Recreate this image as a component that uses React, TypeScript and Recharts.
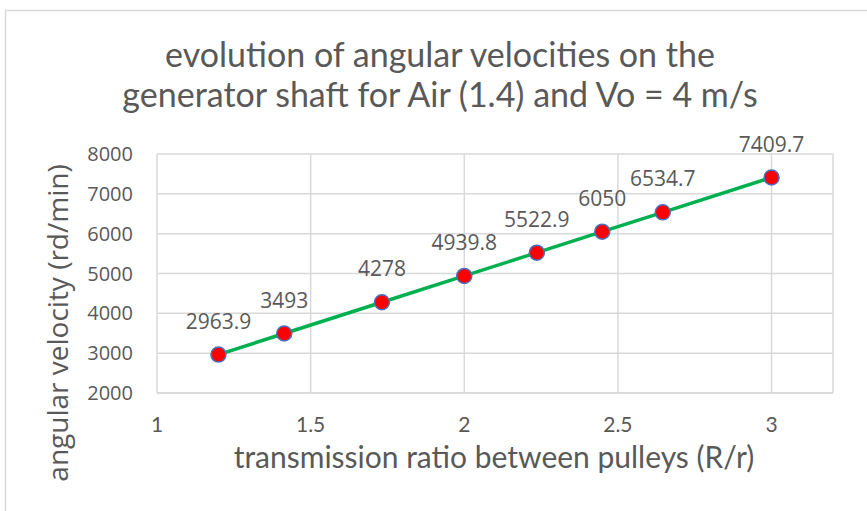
import { CartesianGrid, LabelList, Line, LineChart, XAxis, YAxis } from "recharts";

const ratios = [1.2, 1.414, 1.732, 2, 2.236, 2.449, 2.646, 3];
const velocities = [2963.9, 3493, 4278, 4939.8, 5522.9, 6050, 6534.7, 7409.7];
const xTicks = [1, 1.5, 2, 2.5, 3];
const yTicks = [2000, 3000, 4000, 5000, 6000, 7000, 8000];

const data = ratios.map((x, i) => ({ x, v: velocities[i] }));

const GRAY = "#595959";
const GRID = "#d9d9d9";

function XTick({ x, payload }: any) {
  return (
    <text x={x} y={432} textAnchor="middle" fill={GRAY} fontSize={21} fontFamily="Lato">
      {payload.value}
    </text>
  );
}

function YTick({ y, payload }: any) {
  return (
    <text x={133} y={y + 7} textAnchor="end" fill={GRAY} fontSize={20} fontFamily="Open Sans">
      {payload.value}
    </text>
  );
}

function PointLabel({ x, y, value }: any) {
  return (
    <text x={x} y={y - 26} textAnchor="middle" fill={GRAY} fontSize={21} fontFamily="Open Sans">
      {value}
    </text>
  );
}

export default function App() {
  return (
    <div style={{ position: "absolute", left: 0, top: 0, width: 867, height: 511, background: "#fff" }}>
      <LineChart
        width={867}
        height={511}
        data={data}
        margin={{ top: 154, right: 34, bottom: 88, left: 97 }}
      >
        <CartesianGrid stroke={GRID} strokeWidth={1.5} />
        <XAxis
          type="number"
          dataKey="x"
          domain={[1, 3.2]}
          ticks={xTicks}
          allowDataOverflow
          height={30}
          tickLine={false}
          axisLine={{ stroke: GRID, strokeWidth: 1.5 }}
          tick={<XTick />}
        />
        <YAxis
          type="number"
          domain={[2000, 8000]}
          ticks={yTicks}
          width={60}
          tickLine={false}
          axisLine={false}
          tick={<YTick />}
        />
        <Line
          dataKey="v"
          stroke="none"
          isAnimationActive={false}
          dot={{ r: 7.5, fill: "#ff0000", stroke: "#4472c4", strokeWidth: 1.5 }}
        >
          <LabelList dataKey="v" content={<PointLabel />} />
        </Line>
        <Line
          dataKey="v"
          stroke="#00b050"
          strokeWidth={3.5}
          dot={false}
          isAnimationActive={false}
        />
      </LineChart>
      <svg
        width={867}
        height={511}
        style={{ position: "absolute", left: 0, top: 0, pointerEvents: "none" }}
      >
        <rect x={5.5} y={10.5} width={900} height={600} fill="none" stroke={GRID} strokeWidth={1.5} />
        <text x={440} y={67} textAnchor="middle" fill={GRAY} fontSize={34} fontFamily="Lato">
          evolution of angular velocities on the
        </text>
        <text x={440} y={107} textAnchor="middle" fill={GRAY} fontSize={34} fontFamily="Lato">
          generator shaft for Air (1.4) and Vo = 4 m/s
        </text>
        <text x={494} y={468} textAnchor="middle" fill={GRAY} fontSize={30} fontFamily="Lato">
          transmission ratio between pulleys (R/r)
        </text>
        <text
          x={68}
          y={323}
          textAnchor="middle"
          transform="rotate(-90, 68, 323)"
          fill={GRAY}
          fontSize={28}
          fontFamily="Open Sans"
        >
          angular velocity (rd/min)
        </text>
      </svg>
    </div>
  );
}
